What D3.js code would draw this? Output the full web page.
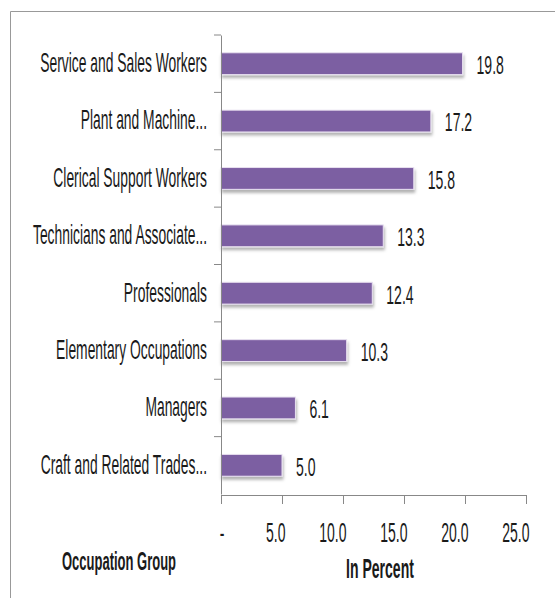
<!DOCTYPE html>
<html>
<head>
<meta charset="utf-8">
<script src="https://cdn.jsdelivr.net/npm/d3@7"></script>
<style>
	body { margin: 0; background: #fff; }
	svg text { font-family: "Liberation Sans", Arial, sans-serif; fill: #1a1a1a; }
</style>
</head>
<body>
<svg id="chart"></svg>
<script>
// occupation groups, top to bottom
const categories = [
	"Service and Sales Workers",
	"Plant and Machine...",
	"Clerical Support Workers",
	"Technicians and Associate...",
	"Professionals",
	"Elementary Occupations",
	"Managers",
	"Craft and Related Trades..."
];
const values = [19.8, 17.2, 15.8, 13.3, 12.4, 10.3, 6.1, 5.0];
const xTicks = [0, 5, 10, 15, 20, 25];
const xTickLabels = ["-", "5.0", "10.0", "15.0", "20.0", "25.0"];

const width = 555, height = 598;

const svg = d3.select("#chart")
	.attr("width", width)
	.attr("height", height);

// the original text is a very narrow font, so squeeze it sideways
const sxLabel = 0.495, sxTick = 0.5, sxValue = 0.54, sxTitle = 0.52;

// frame
svg.append("path")
	.attr("d", "M10.5,598 V11.5 H555")
	.attr("fill", "none")
	.attr("stroke", "#999")
	.attr("stroke-width", 1);

const x = d3.scaleLinear().domain([0, 25]).range([221, 526]);
const y = d3.scaleBand().domain(categories).range([35, 494]).paddingInner(0.62).paddingOuter(0.31);

const defs = svg.append("defs");
const f = defs.append("filter").attr("id", "shadow").attr("x", "-5%").attr("y", "-20%").attr("width", "115%").attr("height", "170%");
f.append("feDropShadow").attr("dx", 1).attr("dy", 3).attr("stdDeviation", 1.5)
	.attr("flood-color", "#000").attr("flood-opacity", 0.3);

// bars
svg.append("g")
	.selectAll("rect")
	.data(values)
	.join("rect")
	.attr("x", x(0))
	.attr("y", (d, i) => y(categories[i]))
	.attr("width", d => x(d) - x(0))
	.attr("height", y.bandwidth())
	.attr("fill", "#7c5ea2")
	.attr("stroke", "#e8e0f0")
	.attr("stroke-width", 1)
	.attr("filter", "url(#shadow)");

// value labels
svg.append("g")
	.selectAll("g")
	.data(values)
	.join("g")
	.attr("transform", (d, i) => `translate(${x(d) + 14},${y(categories[i]) + y.bandwidth() / 2 + 1})`)
	.append("text")
	.attr("transform", `scale(${sxValue},1)`)
	.attr("dy", "0.36em")
	.style("font-size", "26px")
	.text(d => d.toFixed(1));

// y axis
const yAxis = svg.append("g")
	.attr("transform", `translate(${x(0)},0)`)
	.call(d3.axisLeft(y).tickSize(0).tickPadding(14 / sxLabel));
yAxis.select(".domain").attr("stroke", "#888");
yAxis.selectAll("text")
	.attr("transform", `scale(${sxLabel},1)`)
	.attr("dy", "0.3em")
	.style("font-size", "28px")
	.attr("fill", "#1a1a1a");
// separators between categories
const seps = d3.range(categories.length).map(i => y.range()[0] + i * y.step());
yAxis.selectAll(".sep")
	.data(seps)
	.join("line")
	.attr("class", "sep")
	.attr("x1", -7).attr("x2", 0)
	.attr("y1", d => d).attr("y2", d => d)
	.attr("stroke", "#888");

// x axis
const xAxis = svg.append("g")
	.attr("transform", "translate(0,495)")
	.call(d3.axisBottom(x).tickValues(xTicks).tickFormat((d, i) => xTickLabels[i]).tickSize(9).tickSizeOuter(0));
xAxis.selectAll("path, line").attr("stroke", "#888");
xAxis.selectAll("text")
	.attr("transform", `scale(${sxTick},1)`)
	.attr("text-anchor", "end")
	.attr("x", 3 / sxTick)
	.attr("y", 47)
	.attr("dy", 0)
	.style("font-size", "28px")
	.attr("fill", "#1a1a1a");

// axis titles
svg.append("g")
	.attr("transform", "translate(119,570)")
	.append("text")
	.attr("transform", `scale(${sxTitle},1)`)
	.attr("text-anchor", "middle")
	.style("font-size", "25px").style("font-weight", "bold")
	.attr("fill", "#111")
	.text("Occupation Group");
svg.append("g")
	.attr("transform", "translate(380,578)")
	.append("text")
	.attr("transform", `scale(${sxTitle},1)`)
	.attr("text-anchor", "middle")
	.style("font-size", "27px").style("font-weight", "bold")
	.attr("fill", "#111")
	.text("In Percent");
</script>
</body>
</html>
